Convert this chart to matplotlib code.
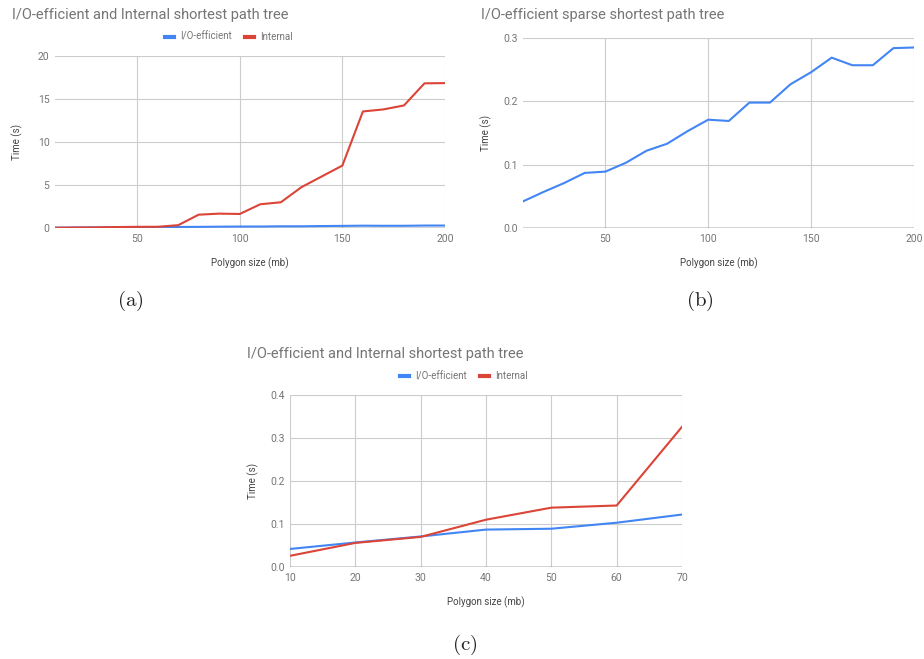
import matplotlib
matplotlib.use('Agg')
import matplotlib.pyplot as plt
from matplotlib.lines import Line2D

plt.rcParams['font.family'] = ['Roboto', 'DejaVu Sans']
plt.rcParams['mathtext.fontset'] = 'cm'

BLUE = '#4285F4'
RED = '#DB4437'
TXT = '#757575'
GRID = '#cccccc'

# polygon sizes (mb)
sizes = [10, 20, 30, 40, 50, 60, 70, 80, 90, 100,
         110, 120, 130, 140, 150, 160, 170, 180, 190, 200]
# I/O-efficient (sparse) shortest path tree, seconds
io_time = [0.042, 0.057, 0.071, 0.087, 0.089, 0.103, 0.122, 0.133, 0.153, 0.171,
           0.169, 0.198, 0.198, 0.227, 0.246, 0.269, 0.257, 0.257, 0.284, 0.285]
# internal shortest path tree, seconds
internal_time = [0.026, 0.056, 0.070, 0.110, 0.138, 0.143, 0.326, 1.55, 1.67, 1.63,
                 2.76, 2.99, 4.74, 6.0, 7.26, 13.55, 13.79, 14.25, 16.82, 16.85]

W, H = 924, 659
fig = plt.figure(figsize=(W / 100, H / 100), dpi=100)


def px_axes(left, top, right, bottom):
    return fig.add_axes([left / W, 1 - bottom / H, (right - left) / W, (bottom - top) / H])


def style(ax, xticks, yticks, ylabel_x):
    for s in ax.spines.values():
        s.set_visible(False)
    ax.set_xticks(xticks)
    ax.set_yticks(yticks)
    ax.tick_params(length=0, labelsize=7.5, labelcolor=TXT, pad=4)
    ax.grid(True, color=GRID, linewidth=0.8)
    ax.set_axisbelow(True)
    ax.axhline(0, color='#333333', linewidth=1.0, zorder=1.5)
    ax.set_xlabel('Polygon size (mb)', fontsize=7, color='#444444', labelpad=10)
    ax.set_ylabel('Time (s)', fontsize=7, color='#444444')
    pos = ax.get_position()
    ax.yaxis.set_label_coords((ylabel_x / W - pos.x0) / pos.width, 0.5)


def caption(text, x, y):
    fig.text(x / W, 1 - y / H, text, ha='center', va='center', fontsize=15, color='#222222')


def legend(cx, cy):
    handles = [Line2D([], [], color=BLUE, linewidth=3), Line2D([], [], color=RED, linewidth=3)]
    fig.legend(handles=handles, labels=['I/O-efficient', 'Internal'],
               loc='center', bbox_to_anchor=(cx / W, 1 - cy / H), ncol=2, frameon=False,
               fontsize=7, labelcolor=TXT, handlelength=0.9, handletextpad=0.6,
               columnspacing=1.4)


# (a)
ax = px_axes(55, 56, 445, 228)
ax.plot(sizes, io_time, color=BLUE, linewidth=1.5, zorder=3)
ax.plot(sizes, internal_time, color=RED, linewidth=1.5, zorder=3)
ax.set_xlim(10, 200)
ax.set_ylim(0, 20)
style(ax, [50, 100, 150, 200], [0, 5, 10, 15, 20], 23)
legend(229, 37)
fig.text(12 / W, 1 - 15 / H, 'I/O-efficient and Internal shortest path tree',
         fontsize=10.5, color=TXT, va='center')
caption(r'$\mathrm{(a)}$', 130, 301)

# (b)
ax = px_axes(523, 38, 914, 228)
ax.plot(sizes, io_time, color=BLUE, linewidth=1.5, zorder=3)
ax.set_xlim(10, 200)
ax.set_ylim(0, 0.3)
style(ax, [50, 100, 150, 200], [0, 0.1, 0.2, 0.3], 492)
ax.set_yticklabels(['0.0', '0.1', '0.2', '0.3'])
fig.text(481 / W, 1 - 15 / H, 'I/O-efficient sparse shortest path tree',
         fontsize=10.5, color=TXT, va='center')
caption(r'$\mathrm{(b)}$', 700, 301)

# (c)
n = 7
ax = px_axes(290, 395, 682, 567)
ax.plot(sizes[:n], io_time[:n], color=BLUE, linewidth=1.5, zorder=3)
ax.plot(sizes[:n], internal_time[:n], color=RED, linewidth=1.5, zorder=3)
ax.set_xlim(10, 70)
ax.set_ylim(0, 0.4)
style(ax, sizes[:n], [0, 0.1, 0.2, 0.3, 0.4], 259)
ax.set_yticklabels(['0.0', '0.1', '0.2', '0.3', '0.4'])
legend(464, 376)
fig.text(247 / W, 1 - 354 / H, 'I/O-efficient and Internal shortest path tree',
         fontsize=10.5, color=TXT, va='center')
caption(r'$\mathrm{(c)}$', 465, 645)

fig.savefig('out.png', dpi=100, facecolor='white')
